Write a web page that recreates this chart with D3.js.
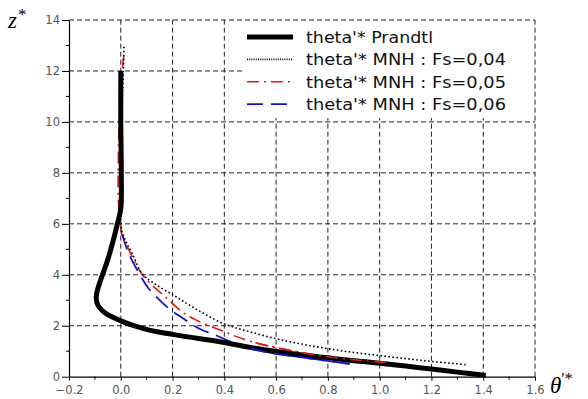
<!DOCTYPE html>
<html><head><meta charset="utf-8">
<script src="https://cdn.jsdelivr.net/npm/d3@7"></script>
<style>body{margin:0;background:#fff}svg{display:block}</style>
</head><body>
<svg id="c" width="588" height="399"></svg>
<script>
// ---- data ----
const xTicks = [-0.2, 0.0, 0.2, 0.4, 0.6, 0.8, 1.0, 1.2, 1.4, 1.6];
const yTicks = [0, 2, 4, 6, 8, 10, 12, 14];
const seriesNames = ["theta'* Prandtl", "theta'* MNH : Fs=0,04", "theta'* MNH : Fs=0,05", "theta'* MNH : Fs=0,06"];

const prandtlTheta = [0.0, 0.0, 0.002, 0.0, -0.013, -0.032, -0.05, -0.073, -0.09, -0.095, -0.088, -0.06, -0.03, 0.01, 0.05, 0.11, 0.2, 0.3, 0.4, 0.5, 0.6, 0.7, 0.8, 0.9, 1.0, 1.1, 1.2, 1.3, 1.41];
const prandtlZ     = [12, 10, 8, 6.6, 6.0, 5.24, 4.6, 3.93, 3.4, 3.1, 2.8, 2.5, 2.33, 2.15, 2.0, 1.83, 1.66, 1.5, 1.34, 1.15, 0.99, 0.85, 0.74, 0.63, 0.53, 0.42, 0.3, 0.18, 0.05];

const fs04Theta = [0.012, 0.01, 0.004, 0.0, 0.0, 0.002, 0.02, 0.045, 0.081, 0.12, 0.21, 0.3, 0.4, 0.5, 0.6, 0.7, 0.8, 0.9, 1.0, 1.1, 1.2, 1.336];
const fs04Z     = [12.95, 12, 10, 8, 6.5, 5.8, 5.3, 4.82, 4.06, 3.72, 3.16, 2.6, 2.07, 1.76, 1.49, 1.28, 1.1, 0.95, 0.83, 0.71, 0.6, 0.47];

const fs05Theta = [0.012, 0.005, -0.006, -0.009, -0.009, 0.0, 0.004, 0.04, 0.08, 0.12, 0.165, 0.25, 0.39, 0.52, 0.65, 0.8, 0.95, 1.04];
const fs05Z     = [12.6, 12, 10, 8.8, 6.9, 6.0, 5.6, 4.8, 4.05, 3.6, 3.2, 2.45, 1.8, 1.33, 1.04, 0.78, 0.62, 0.55];

const fs06Theta = [0.005, 0.03, 0.078, 0.106, 0.184, 0.23, 0.31, 0.36, 0.434, 0.5, 0.6, 0.7, 0.8, 0.885];
const fs06Z     = [5.6, 4.85, 3.93, 3.48, 2.69, 2.36, 1.85, 1.66, 1.33, 1.1, 0.9, 0.76, 0.62, 0.5];

// ---- layout ----
const svg = d3.select("#c");
const x = d3.scaleLinear().domain([-0.2, 1.6]).range([69, 535]);
const y = d3.scaleLinear().domain([0, 14]).range([376.7, 20]);

// grid
const grid = svg.append("g").attr("stroke", "#222").attr("stroke-width", 1).attr("stroke-dasharray", "5,3").attr("fill", "none");
grid.selectAll("line.v").data(xTicks.slice(1, -1)).join("line")
  .attr("x1", d => x(d)).attr("x2", d => x(d)).attr("y1", y(0)).attr("y2", y(14));
grid.selectAll("line.h").data(yTicks.slice(1, -1)).join("line")
  .attr("x1", x(-0.2)).attr("x2", x(1.6)).attr("y1", d => y(d)).attr("y2", d => y(d));

// axes
const minorX = d3.range(-0.1, 1.6, 0.2);
const minorY = d3.range(1, 14, 2);
const ax = svg.append("g").attr("transform", `translate(0,${y(0)})`)
  .call(d3.axisBottom(x).tickValues(xTicks).tickFormat(d3.format(".1f")).tickSize(4).tickSizeOuter(0).tickPadding(5));
const ay = svg.append("g").attr("transform", `translate(${x(-0.2)},0)`)
  .call(d3.axisLeft(y).tickValues(yTicks).tickFormat(d3.format("d")).tickSize(7).tickSizeOuter(0).tickPadding(2));
[ax, ay].forEach(g => {
  g.select(".domain").attr("stroke", "#000").attr("stroke-width", 1.2);
  g.selectAll(".tick line").attr("stroke", "#000");
  g.selectAll(".tick text").attr("fill", "#555").attr("font-family", "DejaVu Sans").attr("font-size", 11.5);
});
svg.append("g").selectAll("line").data(minorX).join("line")
  .attr("x1", d => x(d)).attr("x2", d => x(d)).attr("y1", y(0)).attr("y2", y(0) + 3).attr("stroke", "#000");
svg.append("g").selectAll("line").data(minorY).join("line")
  .attr("x1", x(-0.2) - 3).attr("x2", x(-0.2)).attr("y1", d => y(d)).attr("y2", d => y(d)).attr("stroke", "#000");

// curves
const line = d3.line().x(d => x(d[0])).y(d => y(d[1])).curve(d3.curveCatmullRom.alpha(0.5));
const zip = (a, b) => a.map((v, i) => [v, b[i]]);
const styles = [
  {stroke: "#000", width: 5, dash: null},
  {stroke: "#000", width: 1.6, dash: "1.6,2.4"},
  {stroke: "#e01818", width: 1.6, dash: "12,5,2,5"},
  {stroke: "#1515c8", width: 1.8, dash: "16,8"}
];
const data = [zip(prandtlTheta, prandtlZ), zip(fs04Theta, fs04Z), zip(fs05Theta, fs05Z), zip(fs06Theta, fs06Z)];
[3, 2, 0, 1].forEach(i => {
  svg.append("path").attr("d", line(data[i])).attr("fill", "none")
    .attr("stroke", styles[i].stroke).attr("stroke-width", styles[i].width)
    .attr("stroke-dasharray", styles[i].dash).attr("stroke-linejoin", "round");
});
// MNH lines visible on top of Prandtl in the lower part
[3, 2].forEach(i => {
  svg.append("path").attr("d", line(data[i].filter(d => d[0] > 0.45))).attr("fill", "none")
    .attr("stroke", styles[i].stroke).attr("stroke-width", styles[i].width)
    .attr("stroke-dasharray", styles[i].dash);
});

// legend
svg.append("rect").attr("x", 242).attr("y", y(14)).attr("width", x(1.6) - 242).attr("height", 98).attr("fill", "#fff");
const lg = svg.append("g");
seriesNames.forEach((name, i) => {
  const yy = 37 + i * 22.4;
  lg.append("line").attr("x1", 247).attr("x2", 293).attr("y1", yy).attr("y2", yy)
    .attr("stroke", styles[i].stroke).attr("stroke-width", styles[i].width)
    .attr("stroke-dasharray", i === 1 ? "1,1.2" : styles[i].dash);
  lg.append("text").attr("x", 306).attr("y", yy + 6).text(name)
    .attr("font-family", "DejaVu Sans").attr("font-size", 16).attr("fill", "#111")
    .attr("textLength", i === 0 ? 127 : 200).attr("lengthAdjust", "spacingAndGlyphs");
});

// frame top and right (dashed)
const fr = svg.append("g").attr("stroke", "#222").attr("stroke-width", 1).attr("stroke-dasharray", "5,3");
fr.append("line").attr("x1", x(-0.2)).attr("x2", x(1.6)).attr("y1", y(14)).attr("y2", y(14));
fr.append("line").attr("x1", x(1.6)).attr("x2", x(1.6)).attr("y1", y(0)).attr("y2", y(14));

// axis titles
const zt = svg.append("text").attr("x", 8).attr("y", 28).attr("font-family", "Liberation Serif").attr("font-style", "italic").attr("font-size", 23);
zt.append("tspan").text("z");
zt.append("tspan").attr("font-style", "normal").attr("font-size", 17).attr("dy", -8).attr("dx", 1).text("*");
const tt = svg.append("text").attr("x", 550).attr("y", 393).attr("font-family", "Liberation Serif").attr("font-style", "italic").attr("font-size", 23);
tt.append("tspan").text("θ");
tt.append("tspan").attr("font-style", "normal").attr("font-size", 16).attr("dy", -9).text("′*");
</script>
</body></html>
